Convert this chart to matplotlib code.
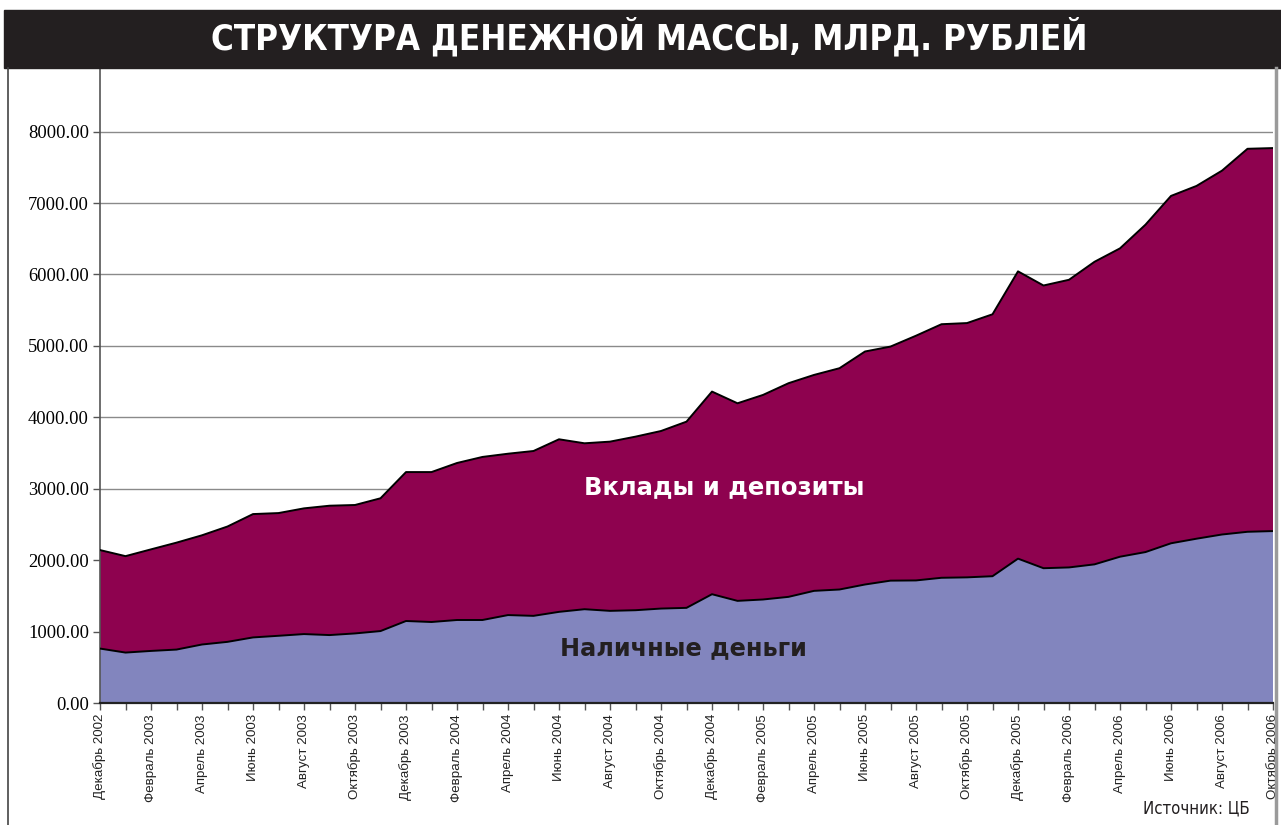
import matplotlib
matplotlib.use("Agg")
import matplotlib.pyplot as plt
from matplotlib.lines import Line2D
from matplotlib.patches import Rectangle
import numpy as np

months = ["Январь", "Февраль", "Март", "Апрель", "Май", "Июнь", "Июль",
          "Август", "Сентябрь", "Октябрь", "Ноябрь", "Декабрь"]

# Dec 2002 .. Oct 2006 (47 monthly points)
cash = [762, 706, 729, 748, 819, 856, 918, 941, 965, 951, 974, 1007,
        1148, 1134, 1162, 1162, 1231, 1220, 1276, 1313, 1290, 1299, 1322, 1332,
        1523, 1430, 1449, 1486, 1570, 1589, 1659, 1713, 1716, 1753, 1759, 1775,
        2021, 1887, 1898, 1941, 2048, 2113, 2236, 2300, 2359, 2397, 2407]
total = [2141, 2056, 2151, 2245, 2348, 2471, 2645, 2659, 2725, 2762, 2772, 2866,
         3233, 3233, 3360, 3445, 3490, 3528, 3692, 3636, 3659, 3729, 3808, 3939,
         4360, 4196, 4313, 4477, 4593, 4687, 4921, 4990, 5142, 5303, 5319, 5442,
         6043, 5845, 5925, 6177, 6365, 6697, 7099, 7239, 7453, 7759, 7769]

labels = []
m, y = 11, 2002
for i in range(len(cash)):
    labels.append(f"{months[m]} {y}")
    m += 1
    if m == 12:
        m, y = 0, y + 1

deposits = [t - c for t, c in zip(total, cash)]

W, H = 1281, 825
fig = plt.figure(figsize=(W / 100, H / 100), dpi=100)
ax = fig.add_axes([100 / W, 1 - 703 / H, (1273 - 100) / W, (703 - 68) / H])

x = np.arange(len(cash))
cash_c = "#8285BE"
dep_c = "#8E024F"
ax.stackplot(x, cash, deposits, colors=[cash_c, dep_c], edgecolor="none", zorder=2)
ax.plot(x, cash, color="black", lw=1.4, zorder=3)
ax.plot(x, total, color="black", lw=1.4, zorder=3)

ax.set_xlim(0, len(cash) - 1)
ax.set_ylim(0, 8890)
ax.set_yticks(np.arange(0, 8001, 1000))
ax.set_yticklabels([f"{v:.2f}" for v in np.arange(0, 8001, 1000)],
                   family="Liberation Serif", fontsize=13.3)
ax.yaxis.grid(True, color="#8a8a8a", lw=1.0, zorder=1)
ax.set_axisbelow(True)

ax.set_xticks(x)
ax.set_xticklabels([lab if i % 2 == 0 else "" for i, lab in enumerate(labels)],
                   rotation=90, family="Liberation Sans", fontsize=9.6, color="#222222")
ax.tick_params(axis="x", length=5, width=1, color="#555555", pad=3)
ax.tick_params(axis="y", length=5, width=1, color="#555555", pad=3)

for s in ["top", "right"]:
    ax.spines[s].set_visible(False)
ax.spines["left"].set_color("#555555")
ax.spines["left"].set_linewidth(1.2)
ax.spines["bottom"].set_color("#222222")
ax.spines["bottom"].set_linewidth(1.6)
ax.spines["bottom"].set_zorder(4)

ax.text(0.532, 0.340, "Вклады и депозиты", transform=ax.transAxes, ha="center",
        va="center", color="white", fontsize=17.5, fontweight="bold",
        family="DejaVu Sans", zorder=5)
ax.text(0.497, 0.087, "Наличные деньги", transform=ax.transAxes, ha="center",
        va="center", color="#231F20", fontsize=17.3, fontweight="bold",
        family="DejaVu Sans", zorder=5)

# title bar
fig.patches.append(Rectangle((4 / W, 1 - 68 / H), 1 - 4 / W, 58 / H,
                             transform=fig.transFigure, color="#231F20", zorder=0))
fig.text(649 / W, 1 - 37 / H, "СТРУКТУРА ДЕНЕЖНОЙ МАССЫ, МЛРД. РУБЛЕЙ",
         ha="center", va="center", color="white", fontsize=25, fontweight="heavy",
         family="DejaVu Sans", fontstretch="condensed")

# frame lines
fig.add_artist(Line2D([8 / W, 8 / W], [0, 1 - 68 / H], transform=fig.transFigure,
                      color="#444444", lw=1.2))
fig.add_artist(Line2D([1276 / W, 1276 / W], [0, 1 - 68 / H], transform=fig.transFigure,
                      color="#9a9a9a", lw=2.5))

fig.text(1250 / W, 1 - 808 / H, "Источник: ЦБ", ha="right", va="center",
         fontsize=12, family="DejaVu Sans", fontstretch="condensed", color="#231F20")

fig.savefig("out.png", dpi=100)
